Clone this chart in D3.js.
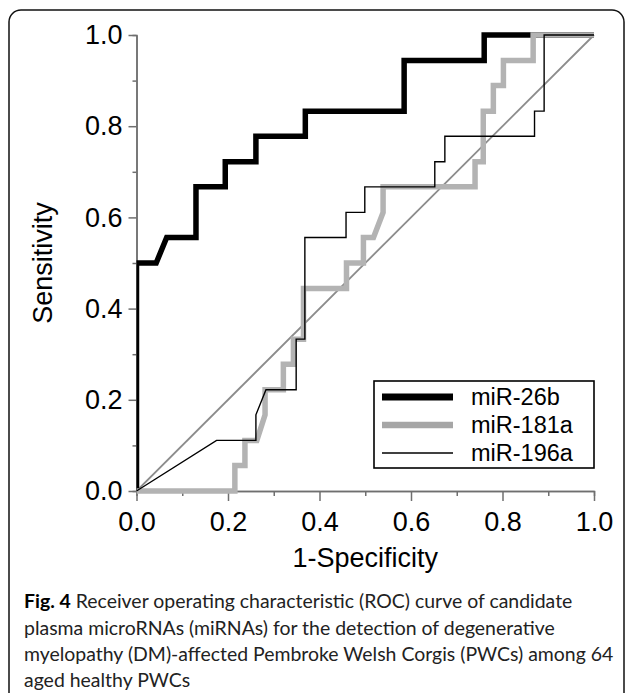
<!DOCTYPE html>
<html>
<head>
<meta charset="utf-8">
<script src="https://cdn.jsdelivr.net/npm/d3@7"></script>
<style>
  html, body { margin: 0; padding: 0; background: #fff; }
  svg { display: block; }
</style>
</head>
<body>
<svg id="chart" width="627" height="693"></svg>
<script>
// ---- data ----
const seriesNames = ["miR-26b", "miR-181a", "miR-196a"];

const miR26b_fpr = [0, 0, 0.043, 0.066, 0.130, 0.130, 0.194, 0.194, 0.261, 0.261, 0.369, 0.369, 0.585, 0.585, 0.760, 0.760, 1.0];
const miR26b_tpr = [0, 0.5, 0.5, 0.556, 0.556, 0.667, 0.667, 0.722, 0.722, 0.778, 0.778, 0.833, 0.833, 0.944, 0.944, 1.0, 1.0];

const miR181a_fpr = [0, 0.215, 0.215, 0.237, 0.237, 0.263, 0.281, 0.281, 0.321, 0.321, 0.343, 0.343, 0.365, 0.365, 0.459, 0.459, 0.496, 0.496, 0.518, 0.539, 0.539, 0.740, 0.740, 0.758, 0.758, 0.780, 0.780, 0.802, 0.802, 0.867, 0.867, 1.0];
const miR181a_tpr = [0, 0, 0.056, 0.056, 0.111, 0.111, 0.167, 0.222, 0.222, 0.278, 0.278, 0.333, 0.333, 0.444, 0.444, 0.5, 0.5, 0.556, 0.556, 0.611, 0.667, 0.667, 0.722, 0.722, 0.833, 0.833, 0.889, 0.889, 0.944, 0.944, 1.0, 1.0];

const miR196a_fpr = [0, 0.175, 0.261, 0.261, 0.283, 0.349, 0.349, 0.368, 0.368, 0.458, 0.458, 0.499, 0.499, 0.652, 0.652, 0.674, 0.674, 0.870, 0.870, 0.891, 0.891, 1.0];
const miR196a_tpr = [0, 0.111, 0.111, 0.167, 0.222, 0.222, 0.333, 0.333, 0.556, 0.556, 0.611, 0.611, 0.667, 0.667, 0.722, 0.722, 0.778, 0.778, 0.833, 0.833, 1.0, 1.0];

const refLine_x = [0, 1];
const refLine_y = [0, 1];

const majorTicks = [0, 0.2, 0.4, 0.6, 0.8, 1.0];
const minorTicks = [0.1, 0.3, 0.5, 0.7, 0.9];

const xTitle = "1-Specificity";
const yTitle = "Sensitivity";
const captionBold = "Fig. 4";
const captionLines = [
  " Receiver operating characteristic (ROC) curve of candidate",
  "plasma microRNAs (miRNAs) for the detection of degenerative",
  "myelopathy (DM)-affected Pembroke Welsh Corgis (PWCs) among 64",
  "aged healthy PWCs"
];

// ---- layout ----
const svg = d3.select("#chart");
const plot = { left: 136.5, top: 35, width: 457.5, height: 456 };

// frame
svg.append("rect")
  .attr("x", 9).attr("y", 10).attr("width", 615).attr("height", 720)
  .attr("rx", 12).attr("ry", 12)
  .attr("fill", "none").attr("stroke", "#111").attr("stroke-width", 1.5);

const x = d3.scaleLinear().domain([0, 1]).range([0, plot.width]);
const y = d3.scaleLinear().domain([0, 1]).range([plot.height, 0]);

const g = svg.append("g").attr("transform", `translate(${plot.left},${plot.top})`);

const axisFont = "'Liberation Sans', Arial, Helvetica, sans-serif";

const axisColor = "#6f6f6f";
function styleAxis(sel) {
  sel.select(".domain").attr("stroke", axisColor).attr("stroke-width", 1.5);
  sel.selectAll(".tick line").attr("stroke", axisColor).attr("stroke-width", 1.5);
  sel.selectAll(".tick text").attr("fill", "#000")
    .style("font-family", axisFont).style("font-size", "27px");
}
// minor ticks
g.append("g").attr("transform", `translate(0,${plot.height})`)
  .call(d3.axisBottom(x).tickValues(minorTicks).tickSize(5).tickFormat(""))
  .call(styleAxis);
g.append("g")
  .call(d3.axisLeft(y).tickValues(minorTicks).tickSize(4).tickFormat(""))
  .call(styleAxis);
// major ticks with labels
g.append("g").attr("transform", `translate(0,${plot.height})`)
  .call(d3.axisBottom(x).tickValues(majorTicks).tickSize(10).tickSizeOuter(0).tickPadding(11).tickFormat(d3.format(".1f")))
  .call(styleAxis);
g.append("g")
  .call(d3.axisLeft(y).tickValues(majorTicks).tickSize(8).tickSizeOuter(0).tickPadding(6).tickFormat(d3.format(".1f")))
  .call(styleAxis);

// clip only on the left edge
svg.append("defs").append("clipPath").attr("id", "clipL")
  .append("rect").attr("x", 0).attr("y", -20).attr("width", plot.width + 20).attr("height", plot.height + 40);

const line = d3.line().x(d => x(d[0])).y(d => y(d[1]));
const zip = (a, b) => a.map((v, i) => [v, b[i]]);

const curves = g.append("g").attr("clip-path", "url(#clipL)");

// reference diagonal
curves.append("path").datum(zip(refLine_x, refLine_y))
  .attr("d", line).attr("fill", "none").attr("stroke", "#8c8c8c").attr("stroke-width", 1.8);

const styles = [
  { color: "#000000", width: 5.5 },
  { color: "#b3b3b3", width: 5.5 },
  { color: "#000000", width: 1.4 }
];
const seriesData = [
  zip(miR26b_fpr, miR26b_tpr),
  zip(miR181a_fpr, miR181a_tpr),
  zip(miR196a_fpr, miR196a_tpr)
];
seriesData.forEach((d, i) => {
  curves.append("path").datum(d)
    .attr("d", line).attr("fill", "none")
    .attr("stroke", styles[i].color).attr("stroke-width", styles[i].width)
    .attr("stroke-linejoin", "miter").attr("stroke-linecap", "butt");
});

// axis titles
svg.append("text")
  .attr("x", plot.left + plot.width / 2).attr("y", 567)
  .attr("text-anchor", "middle")
  .style("font-family", axisFont).style("font-size", "27px")
  .text(xTitle);
svg.append("text")
  .attr("transform", `translate(52,${plot.top + plot.height / 2}) rotate(-90)`)
  .attr("text-anchor", "middle")
  .style("font-family", axisFont).style("font-size", "27px")
  .text(yTitle);

// legend
const leg = svg.append("g");
leg.append("rect").attr("x", 374).attr("y", 381).attr("width", 220).attr("height", 87)
  .attr("fill", "#fff").attr("stroke", "#000").attr("stroke-width", 1.6);
const rowY = [397, 425, 453];
const legendColors = ["#000000", "#a6a6a6", "#000000"];
const legendWidths = [7, 6.5, 1.5];
seriesNames.forEach((name, i) => {
  leg.append("line").attr("x1", 382).attr("x2", 453).attr("y1", rowY[i]).attr("y2", rowY[i])
    .attr("stroke", legendColors[i]).attr("stroke-width", legendWidths[i]);
  leg.append("text").attr("x", 471).attr("y", rowY[i]).attr("dy", "0.36em")
    .style("font-family", axisFont).style("font-size", "23.5px")
    .text(name);
});

// caption
const capFont = "Lato, 'Open Sans', sans-serif";
const capG = svg.append("g");
const capY = [608, 634.5, 661, 687];
const capTexts = [];
captionLines.forEach((t, i) => {
  const tx = capG.append("text").attr("x", 24).attr("y", capY[i])
    .style("font-family", capFont).style("font-size", "20px").attr("fill", "#222");
  if (i === 0) {
    tx.append("tspan").style("font-weight", "bold").attr("fill", "#000").text(captionBold);
  }
  tx.append("tspan").text(t);
  capTexts.push(tx);
});
// fit caption font so line 3 spans its width in the reference
const w3 = capTexts[2].node().getComputedTextLength();
const fs = 20 * 590 / w3;
capTexts.forEach(t => t.style("font-size", fs + "px"));
</script>
</body>
</html>
